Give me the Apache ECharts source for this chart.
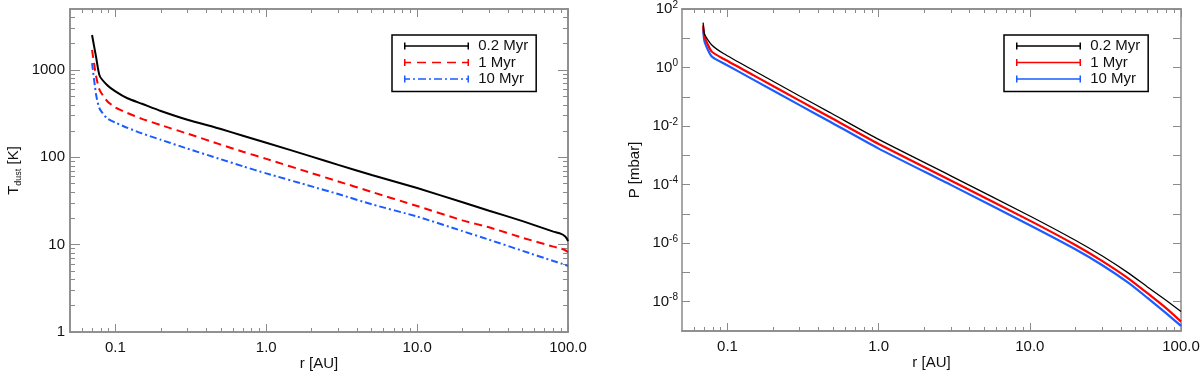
<!DOCTYPE html>
<html>
<head>
<meta charset="utf-8">
<script src="https://cdn.jsdelivr.net/npm/echarts@6/dist/echarts.min.js"></script>
<style>
html, body { margin: 0; padding: 0; background: #fff; }
#chart { width: 1200px; height: 374px; }
</style>
</head>
<body>
<div id="chart"></div>
<script>
// left panel: dust temperature vs radius
var rDust = [0.07, 0.0745, 0.0786, 0.088, 0.1, 0.12, 0.15, 0.2, 0.3, 0.5, 0.7, 1, 2, 3, 5, 10, 20, 30, 50, 80, 90, 95, 98, 100];
var tDust02 = [2520, 1400, 860, 675, 570, 475, 411, 340, 270, 211, 177, 147, 102, 82, 62.9, 44.5, 30.6, 24.5, 18.6, 14.1, 13.3, 12.6, 11.8, 11];
var tDust1 = [1700, 845, 590, 442, 372, 322, 276, 234, 187, 140, 116, 96, 66, 53, 40.2, 27.7, 19, 15.8, 12, 9.5, 9, 8.7, 8.45, 8.2];
var tDust10 = [1200, 520, 360, 280, 250, 218, 188, 159, 126, 95, 79, 65.5, 46.5, 38, 29, 21, 14.3, 11.4, 8.5, 6.5, 6.1, 5.9, 5.8, 5.7];

// right panel: pressure vs radius
var rGas = [0.069, 0.0705, 0.0787, 0.0947, 0.149, 0.3, 0.477, 1, 3, 10, 20, 30, 45, 60, 80, 100];
var pGas02 = [34.3, 13.8, 5.9, 2.95, 0.79, 0.107, 0.029, 3.5e-3, 2.0e-4, 8.5e-6, 1.26e-6, 3.7e-7, 9.5e-8, 3.2e-8, 1.1e-8, 4.6e-9];
var pGas1 = [26.9, 11.2, 3.5, 1.95, 0.54, 0.074, 0.020, 2.45e-3, 1.38e-4, 5.9e-6, 8.7e-7, 2.5e-7, 6.2e-8, 1.95e-8, 5.9e-9, 2.1e-9];
var pGas10 = [21.9, 7.6, 2.37, 1.38, 0.38, 0.052, 0.0141, 1.7e-3, 9.8e-5, 4.1e-6, 6.2e-7, 1.8e-7, 4.4e-8, 1.35e-8, 4.0e-9, 1.5e-9];

var names = ['0.2 Myr', '1 Myr', '10 Myr'];

// ticks
var rMajor = [0.1, 1, 10, 100];
var rMinor = [0.06, 0.07, 0.08, 0.09, 0.2, 0.3, 0.4, 0.5, 0.6, 0.7, 0.8, 0.9, 2, 3, 4, 5, 6, 7, 8, 9, 20, 30, 40, 50, 60, 70, 80, 90];
var tMajor = [1, 10, 100, 1000];
var tMinor = [2, 3, 4, 5, 6, 7, 8, 9, 20, 30, 40, 50, 60, 70, 80, 90, 200, 300, 400, 500, 600, 700, 800, 900, 2000, 3000, 4000];
var pTicks = [1e-8, 1e-7, 1e-6, 1e-5, 1e-4, 1e-3, 1e-2, 1e-1, 1, 10, 100];
var pLabels = [1e-8, 1e-6, 1e-4, 1e-2, 1, 100];

var gray = '#8a8a8a';
var ink = '#111';
var font = 'Liberation Sans';

function pairs(xs, ys) {
	var out = [];
	for (var i = 0; i < xs.length; i++) out.push([xs[i], ys[i]]);
	return out;
}

function logAxis(grid, pos, min, max, ticks, len) {
	return {
		type: 'log', logBase: 10, gridIndex: grid, position: pos, min: min, max: max,
		axisLine: { show: true, onZero: false, lineStyle: { color: gray, width: 1.5 } },
		axisTick: { show: true, inside: true, length: len, customValues: ticks, lineStyle: { color: gray, width: 1 } },
		axisLabel: { show: false },
		splitLine: { show: false },
		minorTick: { show: false },
		minorSplitLine: { show: false },
		nameMoveOverlap: false
	};
}

function withLabels(ax, labels, fmt, margin) {
	ax.axisLabel = {
		show: true, customValues: labels, formatter: fmt, margin: margin,
		color: ink, fontSize: 15, fontFamily: font,
		rich: {
			b: { fontSize: 15, lineHeight: 18, color: ink, fontFamily: font },
			s: { fontSize: 10, lineHeight: 10, verticalAlign: 'top', color: ink, fontFamily: font }
		}
	};
	return ax;
}

function xFmt(v) { return v.toFixed(1); }
function tFmt(v) { return String(Math.round(v)); }
function pFmt(v) { return '{b|10}{s|' + Math.round(Math.log10(v)) + '}'; }

var xAxes = [];
var yAxes = [];
// grid 0
var x0 = withLabels(logAxis(0, 'bottom', 0.05, 100, rMajor, 8), rMajor, xFmt, 8);
x0.name = 'r [AU]'; x0.nameLocation = 'middle'; x0.nameGap = 24;
x0.nameTextStyle = { color: ink, fontSize: 15, fontFamily: font };
xAxes.push(x0, logAxis(0, 'bottom', 0.05, 100, rMinor, 4), logAxis(0, 'top', 0.05, 100, rMajor, 8), logAxis(0, 'top', 0.05, 100, rMinor, 4));
var y0 = withLabels(logAxis(0, 'left', 1, 5000, tMajor, 10), tMajor, tFmt, 5);
y0.name = '{t|T}{d|dust}{t| [K]}'; y0.nameLocation = 'middle'; y0.nameGap = 47; y0.nameRotate = 90;
y0.nameTextStyle = { rich: {
	t: { fontSize: 15, lineHeight: 18, color: ink, fontFamily: font },
	d: { fontSize: 9, lineHeight: 9, verticalAlign: 'bottom', color: ink, fontFamily: font }
} };
yAxes.push(y0, logAxis(0, 'left', 1, 5000, tMinor, 5), logAxis(0, 'right', 1, 5000, tMajor, 10), logAxis(0, 'right', 1, 5000, tMinor, 5));
// grid 1
var x1 = withLabels(logAxis(1, 'bottom', 0.05, 100, rMajor, 8), rMajor, xFmt, 8);
x1.name = 'r [AU]'; x1.nameLocation = 'middle'; x1.nameGap = 24;
x1.nameTextStyle = { color: ink, fontSize: 15, fontFamily: font };
xAxes.push(x1, logAxis(1, 'bottom', 0.05, 100, rMinor, 4), logAxis(1, 'top', 0.05, 100, rMajor, 8), logAxis(1, 'top', 0.05, 100, rMinor, 4));
var y1 = withLabels(logAxis(1, 'left', 1e-9, 100, pTicks, 8), pLabels, pFmt, 4);
y1.name = 'P [mbar]'; y1.nameLocation = 'middle'; y1.nameGap = 40; y1.nameRotate = 90;
y1.nameTextStyle = { color: ink, fontSize: 15, fontFamily: font };
yAxes.push(y1, logAxis(1, 'right', 1e-9, 100, pTicks, 8));

function line(name, data, xi, yi, color, width, type) {
	return {
		name: name, type: 'line', xAxisIndex: xi, yAxisIndex: yi, data: data,
		symbol: 'none', smooth: 0.2, animation: false, silent: true,
		lineStyle: { color: color, width: width, type: type },
		itemStyle: { color: color }
	};
}

var red = '#ff0000';
var blue = '#1a5cff';

var iconSolid = 'path://M0,2.75h65v1.5H0z M0,0h1.5v7H0z M63.5,0h1.5v7h-1.5z';
var iconDash = 'path://M0,0h1.5v7H0z M0,2.75h7v1.5H0z M13,2.75h9v1.5h-9z M28,2.75h9v1.5h-9z M43,2.75h9v1.5h-9z M58,2.75h7v1.5h-7z M63.5,0h1.5v7h-1.5z';
var iconDashDot = 'path://M0,0h1.5v7H0z M0,2.75h6v1.5H0z M9,2.75h2v1.5h-2z M14,2.75h8v1.5h-8z M25,2.75h2v1.5h-2z M30,2.75h8v1.5h-8z M41,2.75h2v1.5h-2z M46,2.75h8v1.5h-8z M57,2.75h2v1.5h-2z M62,2.75h3v1.5h-3z M63.5,0h1.5v7h-1.5z';

function legendAt(left, icons) {
	return {
		orient: 'vertical', left: left, top: 35,
		padding: [3.5, 8, 5, 12],
		itemWidth: 65, itemHeight: 7, itemGap: 1.5,
		borderColor: '#000', borderWidth: 1.5, backgroundColor: '#fff',
		selectedMode: false,
		itemStyle: { borderWidth: 0 },
		formatter: function(n) { return ' ' + n; },
		textStyle: { color: ink, fontSize: 15, lineHeight: 15, fontFamily: font },
		data: [
			{ name: names[0], icon: icons[0] },
			{ name: names[1], icon: icons[1] },
			{ name: names[2], icon: icons[2] }
		]
	};
}

var chart = echarts.init(document.getElementById('chart'), null, { renderer: 'canvas' });
chart.setOption({
	animation: false,
	backgroundColor: '#fff',
	textStyle: { fontFamily: font },
	grid: [
		{ left: 70, top: 9, width: 498, height: 323, outerBoundsMode: 'none', containLabel: false },
		{ left: 682, top: 9, width: 499, height: 322, outerBoundsMode: 'none', containLabel: false }
	],
	legend: [
		legendAt(392, [iconSolid, iconDash, iconDashDot]),
		legendAt(1004, [iconSolid, iconSolid, iconSolid])
	],
	xAxis: xAxes,
	yAxis: yAxes,
	series: [
		line(names[0], pairs(rDust, tDust02), 0, 0, '#000', 2, 'solid'),
		line(names[1], pairs(rDust, tDust1), 0, 0, red, 2, [8, 5]),
		line(names[2], pairs(rDust, tDust10), 0, 0, blue, 2, [7, 3, 2, 3]),
		line(names[2], pairs(rGas, pGas10), 4, 4, blue, 2.2, 'solid'),
		line(names[1], pairs(rGas, pGas1), 4, 4, red, 2.2, 'solid'),
		line(names[0], pairs(rGas, pGas02), 4, 4, '#000', 1.3, 'solid')
	]
});
</script>
</body>
</html>
